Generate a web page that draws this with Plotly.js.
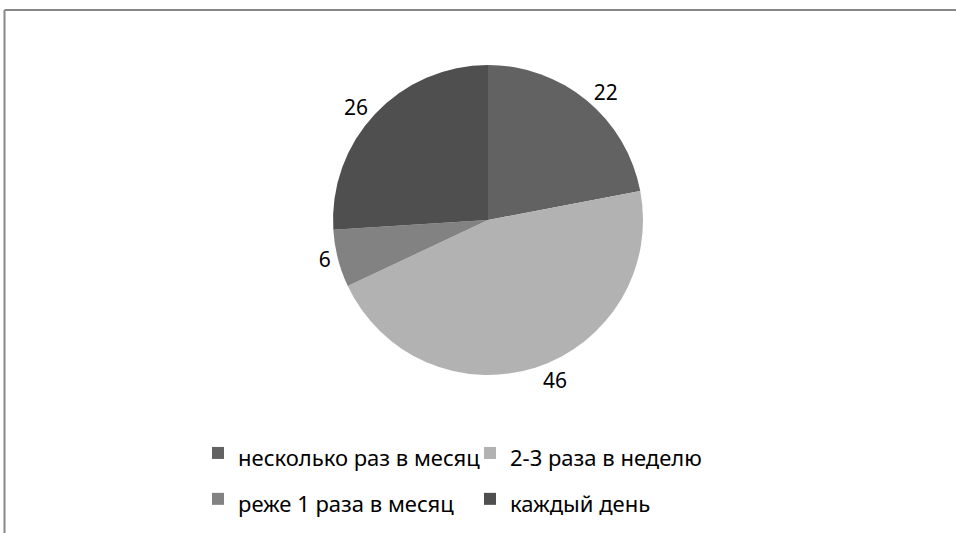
<!DOCTYPE html>
<html>
<head>
<meta charset="utf-8">
<script src="https://cdn.plot.ly/plotly-3.0.1.min.js"></script>
<style>html,body{margin:0;padding:0;background:#fff;}#chart{width:956px;height:533px;}</style>
</head>
<body>
<div id="chart"></div>
<script>
const labels = ["несколько раз в месяц", "2-3 раза в неделю", "реже 1 раза в месяц", "каждый день"];
const values = [22, 46, 6, 26];
const colors = ["#626262", "#b2b2b2", "#828282", "#4f4f4f"];

// legend text is drawn at 22px inside a taller legend row
const legendLabels = labels.map(l => '<span style="font-size:22px">' + l + '</span>');

const W = 956, H = 533, ML = 150, MR = 150, MT = 0, MB = 110;
const gw = W - ML - MR, gh = H - MT - MB;
const px = x => (x - ML) / gw;          // page px -> paper x
const py = y => 1 - (y - MT) / gh;      // page px -> paper y

const trace = {
  type: "pie",
  labels: legendLabels,
  values: values,
  sort: false,
  direction: "clockwise",
  rotation: 0,
  marker: {colors: colors, line: {width: 0}},
  textinfo: "value",
  textposition: "outside",
  outsidetextfont: {family: "Noto Sans, sans-serif", size: 21, color: "#000"},
  domain: {x: [px(488 - 155), px(488 + 155)], y: [py(220 + 155), py(220 - 155)]},
  hoverinfo: "label+value",
  automargin: false
};

const layout = {
  width: W, height: H,
  margin: {l: ML, r: MR, t: MT, b: MB, autoexpand: false},
  paper_bgcolor: "#fff",
  plot_bgcolor: "#fff",
  showlegend: true,
  legend: {
    orientation: "h",
    x: px(198), xanchor: "left",
    y: py(425), yanchor: "top",
    font: {family: "Noto Sans, sans-serif", size: 33, color: "#000"},
    entrywidth: 227, entrywidthmode: "pixels",
    traceorder: "normal"
  },
  shapes: [
    {type: "line", xref: "paper", yref: "paper", x0: px(4.5), x1: px(W), y0: py(10), y1: py(10), line: {color: "#888", width: 2}},
    {type: "line", xref: "paper", yref: "paper", x0: px(4.5), x1: px(4.5), y0: py(10), y1: py(H), line: {color: "#888", width: 2}}
  ]
};

Plotly.newPlot("chart", [trace], layout, {displayModeBar: false, staticPlot: true});
</script>
</body>
</html>
